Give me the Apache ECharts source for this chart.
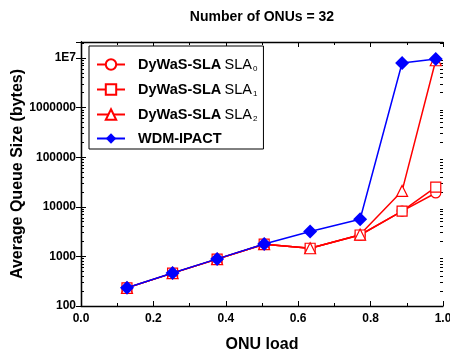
<!DOCTYPE html>
<html>
<head>
<meta charset="utf-8">
<script src="https://cdn.jsdelivr.net/npm/echarts@6/dist/echarts.min.js"></script>
<style>
  html, body { margin: 0; padding: 0; background: #fff; }
  #chart { width: 450px; height: 354px; }
</style>
</head>
<body>
<div id="chart"></div>
<script>
// ONU load values (x)
const onuLoad = [0.127, 0.253, 0.376, 0.506, 0.633, 0.771, 0.887, 0.98];

// Average queue size (bytes)
const sla0 = [232, 460, 880, 1760, 1460, 2700, 8200, 19000];
const sla1 = [232, 460, 880, 1760, 1460, 2700, 8200, 25000];
const sla2 = [232, 460, 880, 1760, 1460, 2750, 20900, 9000000];
const wdmIpact = [234, 462, 890, 1780, 3190, 5600, 7900000, 9500000];

const yTicks = { 100: "100", 1000: "1000", 10000: "10000", 100000: "100000", 1000000: "1000000", 10000000: "1E7" };
// log minor ticks 2..9 per decade
const yMinor = [];
[100, 1000, 10000, 100000, 1000000, 10000000].forEach((d) => {
  for (let k = 2; k <= 9; k++) if (d * k <= 21000000) yMinor.push(d * k);
});

const font = "Liberation Sans, Arial, sans-serif";

const chart = echarts.init(document.getElementById("chart"), null, { renderer: "canvas" });

const pairs = (ys) => onuLoad.map((x, i) => [x, ys[i]]);

const red = "#ff0000";
const blue = "#0000ff";

const redSeries = (name, data, symbol, size) => ({
  name,
  type: "line",
  data: pairs(data),
  symbol,
  symbolSize: size,
  showAllSymbol: true,
  lineStyle: { color: red, width: 1.5 },
  itemStyle: { color: "#fff", borderColor: red, borderWidth: 1.2 },
  z: 2,
});

const logAxis = (extra) => Object.assign({
  type: "log",
  logBase: 10,
  min: 100,
  max: 21000000,
  axisLine: { lineStyle: { color: "#000", width: 1.3 } },
  axisTick: { inside: true, length: 5, lineStyle: { color: "#000" } },
  axisLabel: { show: false },
  splitLine: { show: false },
}, extra);

const minorLogAxis = (position) => logAxis({
  position,
  axisLine: { show: false },
  axisTick: { inside: true, length: 3, customValues: yMinor, lineStyle: { color: "#000" } },
});

const linAxis = (extra) => Object.assign({
  type: "value",
  min: 0,
  max: 1,
  interval: 0.2,
  axisLine: { lineStyle: { color: "#000", width: 1.3 } },
  axisTick: { inside: true, length: 5, lineStyle: { color: "#000" } },
  minorTick: { show: true, splitNumber: 2, length: 3, lineStyle: { color: "#000" } },
  axisLabel: { show: false },
  splitLine: { show: false },
}, extra);

const option = {
  animation: false,
  textStyle: { fontFamily: font },
  title: {
    text: "Number of ONUs = 32",
    left: 257,
    textAlign: "center",
    top: 5,
    textStyle: { fontSize: 14, fontWeight: "bold", color: "#000", fontFamily: font },
  },
  legend: {
    orient: "vertical",
    left: 89,
    top: 46,
    padding: [10, 6, 3, 7],
    itemGap: 8,
    itemWidth: 28,
    itemHeight: 13,
    borderColor: "#000",
    borderWidth: 1,
    backgroundColor: "#fff",
    data: ["SLA0", "SLA1", "SLA2", "WDM-IPACT"],
    formatter: (name) => {
      if (name === "WDM-IPACT") return "{g|}{b|WDM-IPACT}";
      return "{g|}{b|DyWaS-SLA} {n|SLA}{s|" + name.slice(3) + "}";
    },
    textStyle: {
      color: "#000",
      rich: {
        g: { width: 8, lineHeight: 17 },
        b: { fontWeight: "bold", fontSize: 14.5, color: "#000", fontFamily: font, lineHeight: 17 },
        n: { fontSize: 14.5, color: "#000", fontFamily: font, lineHeight: 17 },
        s: { fontSize: 8, color: "#000", fontFamily: font, padding: [9, 0, 0, 1], lineHeight: 17 },
      },
    },
  },
  grid: { left: 81, right: 7, top: 42, bottom: 48, outerBoundsMode: "none" },
  xAxis: [
    linAxis({
      name: "ONU load",
      nameLocation: "middle",
      nameGap: 31,
      nameMoveOverlap: false,
      nameTextStyle: { fontSize: 16, fontWeight: "bold", color: "#000", fontFamily: font },
      axisLabel: {
        fontSize: 12,
        fontWeight: "bold",
        color: "#000",
        margin: 7,
        formatter: (v) => v.toFixed(1),
      },
    }),
    linAxis({ position: "top" }),
  ],
  yAxis: [
    logAxis({
      name: "Average Queue Size (bytes)",
      nameLocation: "middle",
      nameGap: 55,
      nameMoveOverlap: false,
      nameTextStyle: { fontSize: 16, fontWeight: "bold", color: "#000", fontFamily: font },
      axisLabel: {
        fontSize: 12,
        fontWeight: "bold",
        color: "#000",
        margin: 5,
        formatter: (v) => yTicks[Math.round(v)] || "",
      },
    }),
    logAxis({ position: "right" }),
    minorLogAxis("left"),
    minorLogAxis("right"),
  ],
  series: [
    redSeries("SLA0", sla0, "circle", 10),
    redSeries("SLA1", sla1, "rect", 10),
    redSeries("SLA2", sla2, "triangle", 11),
    {
      name: "WDM-IPACT",
      type: "line",
      data: pairs(wdmIpact),
      symbol: "diamond",
      symbolSize: 14,
      lineStyle: { color: blue, width: 1.5 },
      itemStyle: { color: blue },
      z: 3,
    },
  ],
};

chart.setOption(option);
</script>
</body>
</html>
